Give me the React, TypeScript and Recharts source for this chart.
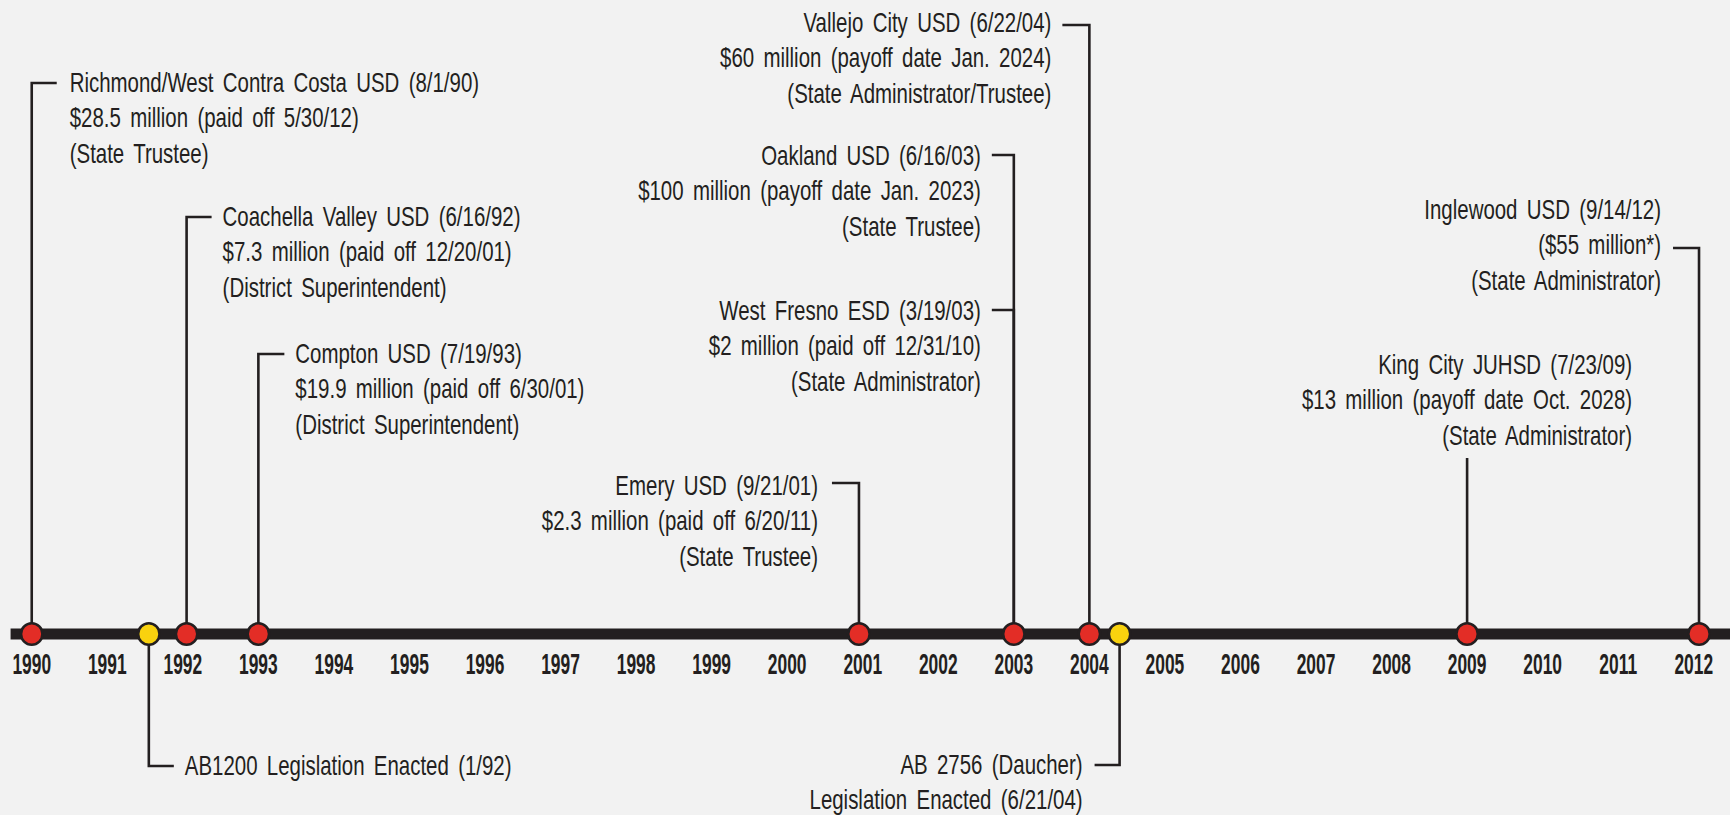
import React from 'react';
import { ComposedChart, Line, Scatter, XAxis, YAxis } from 'recharts';

const INK = '#231f20';
const RED = '#e32d26';
const YELLOW = '#f9d20e';
const FONT = "'Liberation Sans', Arial, sans-serif";

const yearTicks = [
  1990, 1991, 1992, 1993, 1994, 1995, 1996, 1997, 1998, 1999, 2000, 2001,
  2002, 2003, 2004, 2005, 2006, 2007, 2008, 2009, 2010, 2011, 2012,
];

// the bar itself
const timelineSpan = [
  { x: 1989.72, y: 0 },
  { x: 2012.48, y: 0 },
];

// red dots: districts taking an emergency loan (placed by year, not exact date)
const districtMarkers = [
  { x: 1990, y: 0 },
  { x: 1992.05, y: 0 },
  { x: 1993, y: 0 },
  { x: 2000.95, y: 0 },
  { x: 2003, y: 0 },
  { x: 2004, y: 0 },
  { x: 2009, y: 0 },
  { x: 2012.07, y: 0 },
];

// yellow dots: legislation
const legislationMarkers = [
  { x: 1991.55, y: 0 },
  { x: 2004.4, y: 0 },
];

const notes = [
  { id: 'richmond', x: 1990, y: 0, lines: ['Richmond/West Contra Costa USD (8/1/90)', '$28.5 million (paid off 5/30/12)', '(State Trustee)'] },
  { id: 'coachella', x: 1992.05, y: 0, lines: ['Coachella Valley USD (6/16/92)', '$7.3 million (paid off 12/20/01)', '(District Superintendent)'] },
  { id: 'compton', x: 1993, y: 0, lines: ['Compton USD (7/19/93)', '$19.9 million (paid off 6/30/01)', '(District Superintendent)'] },
  { id: 'emery', x: 2000.95, y: 0, lines: ['Emery USD (9/21/01)', '$2.3 million (paid off 6/20/11)', '(State Trustee)'] },
  { id: 'oakland', x: 2003, y: 0, lines: ['Oakland USD (6/16/03)', '$100 million (payoff date Jan. 2023)', '(State Trustee)'] },
  { id: 'westFresno', x: 2003, y: 0, lines: ['West Fresno ESD (3/19/03)', '$2 million (paid off 12/31/10)', '(State Administrator)'] },
  { id: 'vallejo', x: 2004, y: 0, lines: ['Vallejo City USD (6/22/04)', '$60 million (payoff date Jan. 2024)', '(State Administrator/Trustee)'] },
  { id: 'kingCity', x: 2009, y: 0, lines: ['King City JUHSD (7/23/09)', '$13 million (payoff date Oct. 2028)', '(State Administrator)'] },
  { id: 'inglewood', x: 2012.07, y: 0, lines: ['Inglewood USD (9/14/12)', '($55 million*)', '(State Administrator)'] },
  { id: 'ab1200', x: 1991.55, y: 0, lines: ['AB1200 Legislation Enacted (1/92)'] },
  { id: 'ab2756', x: 2004.4, y: 0, lines: ['AB 2756 (Daucher)', 'Legislation Enacted (6/21/04)'] },
];

// leader line geometry, px from the bar
type Layout = { rise: number; stub: number; textX: number; textY: number; anchor: 'start' | 'end' };
const layout: Record<string, Layout> = {
  richmond: { rise: -551, stub: 25, textX: 38, textY: -551, anchor: 'start' },
  coachella: { rise: -417, stub: 25, textX: 36, textY: -417, anchor: 'start' },
  compton: { rise: -280, stub: 26, textX: 37, textY: -280, anchor: 'start' },
  emery: { rise: -151, stub: -27, textX: -41, textY: -148, anchor: 'end' },
  oakland: { rise: -479, stub: -22, textX: -33, textY: -478, anchor: 'end' },
  westFresno: { rise: -324, stub: -22, textX: -33, textY: -323, anchor: 'end' },
  vallejo: { rise: -609, stub: -27, textX: -38, textY: -611, anchor: 'end' },
  kingCity: { rise: -176, stub: 0, textX: 165, textY: -269, anchor: 'end' },
  inglewood: { rise: -386, stub: -26, textX: -38, textY: -424, anchor: 'end' },
  ab1200: { rise: 132, stub: 25, textX: 36, textY: 132, anchor: 'start' },
  ab2756: { rise: 131, stub: -25, textX: -37, textY: 131, anchor: 'end' },
};

const LINE_H = 35.3;
const SQUEEZE = 0.73;
const DOT_R = 10.7;

function NoteShape(props: any) {
  const { cx, cy, payload } = props;
  const l = layout[payload.id];
  if (!l || cx == null) return <g />;
  const dir = l.rise < 0 ? -1 : 1;
  const elbowY = cy + l.rise;
  let d = `M${cx},${cy + dir * DOT_R} L${cx},${elbowY}`;
  if (l.stub) d += ` L${cx + l.stub},${elbowY}`;
  return (
    <g>
      <path d={d} stroke={INK} strokeWidth={2.6} fill="none" />
      <g transform={`translate(${cx + l.textX},${cy + l.textY}) scale(${SQUEEZE},1)`}>
        {payload.lines.map((t: string, i: number) => (
          <text
            key={i}
            x={0}
            y={i * LINE_H + 9}
            textAnchor={l.anchor}
            fontFamily={FONT}
            fontSize={28}
            wordSpacing={5}
            fill={INK}
          >
            {t}
          </text>
        ))}
      </g>
    </g>
  );
}

function Dot(fill: string) {
  return (props: any) => {
    const { cx, cy } = props;
    if (cx == null) return <g />;
    return <circle cx={cx} cy={cy} r={DOT_R} fill={fill} stroke={INK} strokeWidth={2.6} />;
  };
}

function YearTick(props: any) {
  const { x, y, payload } = props;
  return (
    <g transform={`translate(${x},${y + 40}) scale(0.6,1)`}>
      <text x={0} y={0} textAnchor="middle" fontFamily={FONT} fontSize={29} fontWeight="bold" fill={INK}>
        {payload.value}
      </text>
    </g>
  );
}

export default function App() {
  return (
    <div style={{ width: 1730, height: 815, background: '#f2f2f2' }}>
      <style>{'body{margin:0;background:#f2f2f2}'}</style>
      <ComposedChart width={1730} height={815} margin={{ top: 0, right: 0, bottom: 141, left: 0 }}>
        <XAxis
          type="number"
          dataKey="x"
          domain={[1989.58, 2012.48]}
          ticks={yearTicks}
          interval={0}
          tickLine={false}
          axisLine={false}
          tickSize={0}
          tickMargin={0}
          height={40}
          tick={<YearTick />}
        />
        <YAxis hide type="number" dataKey="y" domain={[0, 634]} />
        <Line
          data={timelineSpan}
          dataKey="y"
          stroke={INK}
          strokeWidth={11}
          dot={false}
          activeDot={false}
          isAnimationActive={false}
        />
        <Scatter data={notes} dataKey="y" shape={NoteShape} isAnimationActive={false} />
        <Scatter data={districtMarkers} dataKey="y" shape={Dot(RED)} isAnimationActive={false} />
        <Scatter data={legislationMarkers} dataKey="y" shape={Dot(YELLOW)} isAnimationActive={false} />
      </ComposedChart>
    </div>
  );
}
